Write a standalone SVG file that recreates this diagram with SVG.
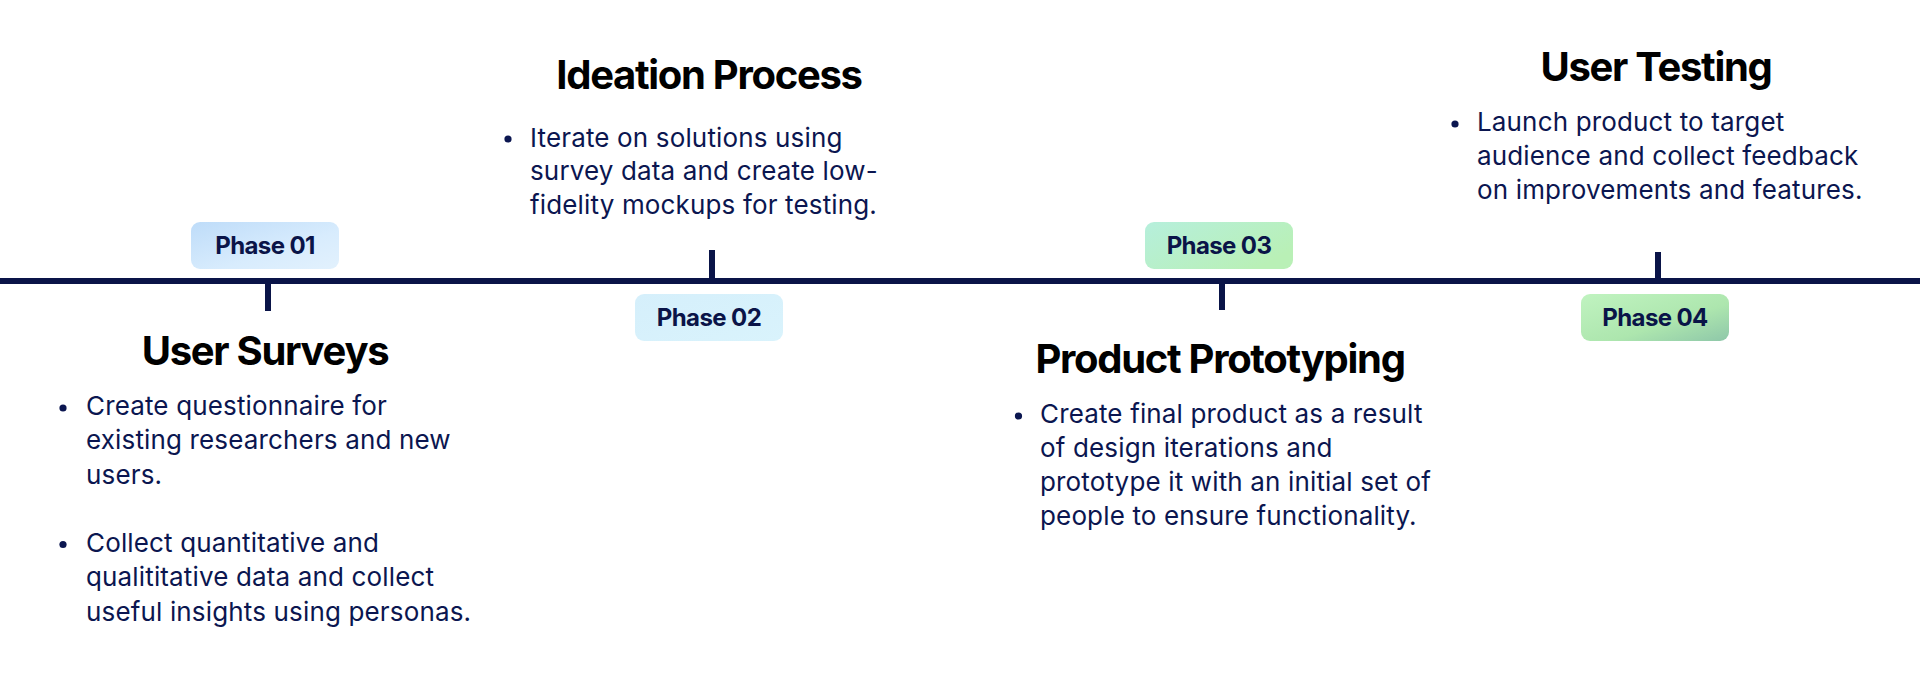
<svg xmlns="http://www.w3.org/2000/svg" width="1920" height="678" viewBox="0 0 1920 678">
<defs>
<linearGradient id="g1" x1="0" y1="0" x2="1" y2="1"><stop offset="0" stop-color="#bedcf9"/><stop offset="0.6" stop-color="#d8ecfd"/><stop offset="1" stop-color="#e2f1fd"/></linearGradient>
<linearGradient id="g2" x1="0" y1="0" x2="1" y2="1"><stop offset="0" stop-color="#d5effb"/><stop offset="1" stop-color="#d9f3fc"/></linearGradient>
<linearGradient id="g3" x1="0" y1="0" x2="1" y2="0.6"><stop offset="0" stop-color="#b6efdc"/><stop offset="1" stop-color="#b9f0b6"/></linearGradient>
<linearGradient id="g4" x1="0" y1="0" x2="1" y2="1"><stop offset="0" stop-color="#c0f3c0"/><stop offset="0.6" stop-color="#ade6ae"/><stop offset="1" stop-color="#8ec7a9"/></linearGradient>
<style>
.title{font-family:Inter,"Liberation Sans",sans-serif;font-weight:700;font-size:40px;fill:#000;text-anchor:middle;letter-spacing:-1.3px}
.body{font-family:Inter,"Liberation Sans",sans-serif;font-weight:400;font-size:26px;fill:#0b1650;letter-spacing:0.15px}
.pill{font-family:Inter,"Liberation Sans",sans-serif;font-weight:700;font-size:24px;fill:#0a1448;text-anchor:middle;letter-spacing:-0.6px}
.dot{fill:#0b1650}
.tick{stroke:#0a1448;stroke-width:6}
</style>
</defs>
<rect width="1920" height="678" fill="#ffffff"/>
<g id="connectors">
<line class="tick" x1="0" y1="281" x2="1920" y2="281"/>
<line class="tick" x1="268" y1="281" x2="268" y2="311"/>
<line class="tick" x1="712" y1="250" x2="712" y2="281"/>
<line class="tick" x1="1222" y1="281" x2="1222" y2="310"/>
<line class="tick" x1="1658" y1="252" x2="1658" y2="281"/>
</g>
<g id="phase01">
<rect x="191" y="222" width="148" height="47" rx="9" fill="url(#g1)"/>
<text class="pill" x="265" y="254">Phase 01</text>
<text class="title" x="265" y="365">User Surveys</text>
<circle class="dot" cx="63" cy="408" r="3.6"/>
<text class="body" x="86" y="415">Create questionnaire for</text>
<text class="body" x="86" y="449.3">existing researchers and new</text>
<text class="body" x="86" y="484">users.</text>
<circle class="dot" cx="63" cy="544.5" r="3.6"/>
<text class="body" x="86" y="551.7">Collect quantitative and</text>
<text class="body" x="86" y="586.3">qualititative data and collect</text>
<text class="body" x="86" y="620.5">useful insights using personas.</text>
</g>
<g id="phase02">
<rect x="635" y="294" width="148" height="47" rx="9" fill="url(#g2)"/>
<text class="pill" x="709" y="326">Phase 02</text>
<text class="title" x="709" y="89.3">Ideation Process</text>
<circle class="dot" cx="508" cy="139" r="3.6"/>
<text class="body" x="530" y="146.7">Iterate on solutions using</text>
<text class="body" x="530" y="180.3">survey data and create low-</text>
<text class="body" x="530" y="214">fidelity mockups for testing.</text>
</g>
<g id="phase03">
<rect x="1145" y="222" width="148" height="47" rx="9" fill="url(#g3)"/>
<text class="pill" x="1219" y="254">Phase 03</text>
<text class="title" x="1220" y="372.7">Product Prototyping</text>
<circle class="dot" cx="1018.5" cy="416" r="3.6"/>
<text class="body" x="1040" y="422.7">Create final product as a result</text>
<text class="body" x="1040" y="456.7">of design iterations and</text>
<text class="body" x="1040" y="490.8">prototype it with an initial set of</text>
<text class="body" x="1040" y="524.5">people to ensure functionality.</text>
</g>
<g id="phase04">
<rect x="1581" y="294" width="148" height="47" rx="9" fill="url(#g4)"/>
<text class="pill" x="1655" y="326">Phase 04</text>
<text class="title" x="1656" y="80.7">User Testing</text>
<circle class="dot" cx="1455" cy="124" r="3.6"/>
<text class="body" x="1477" y="131">Launch product to target</text>
<text class="body" x="1477" y="165">audience and collect feedback</text>
<text class="body" x="1477" y="199.3">on improvements and features.</text>
</g>
</svg>
